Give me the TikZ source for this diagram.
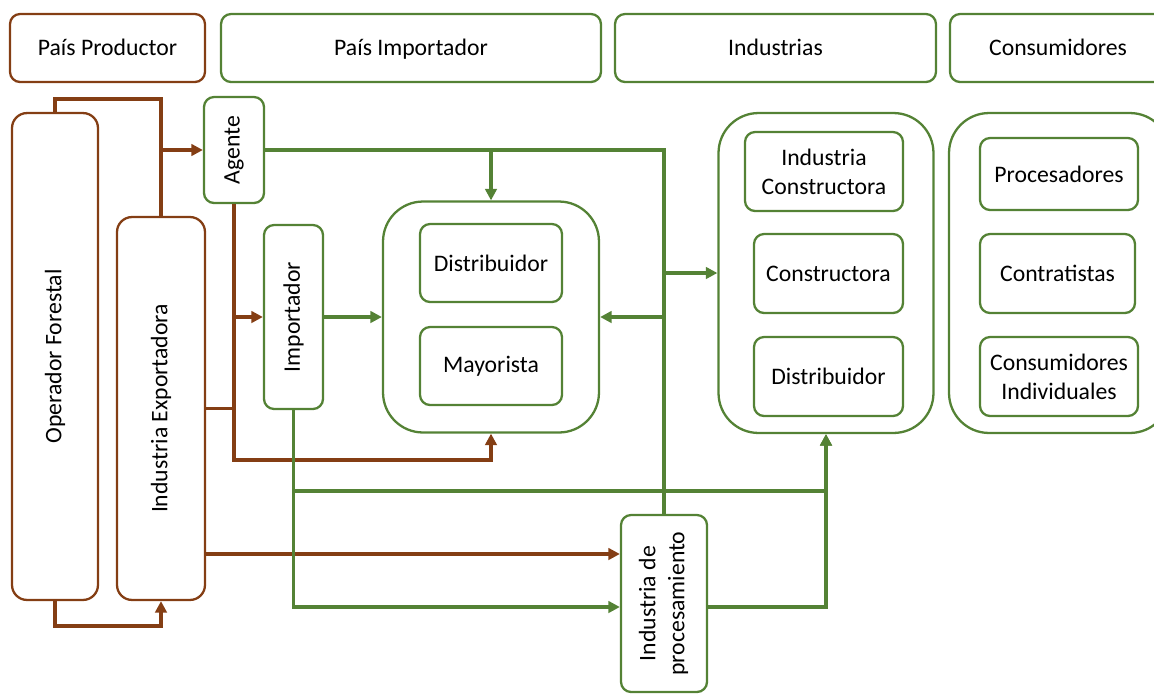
\documentclass[tikz,border=0pt]{standalone}
\usepackage{fontspec}
\setmainfont{Carlito}
\usepackage{graphicx}
\usetikzlibrary{arrows.meta}
\definecolor{prodbrown}{RGB}{132,62,20}
\definecolor{impgreen}{RGB}{84,130,53}

\begin{document}
\begin{tikzpicture}[
   x=0.02cm, y=-0.02cm,
   txt/.style={font=\fontsize{13.5}{16.5}\selectfont, align=center, inner sep=2pt},
   hdr/.style={txt, draw, rounded corners=0.2cm, line width=1.3pt, minimum height=1.36cm,
      text height=2.4ex, text depth=0.5ex},
   pbox/.style={txt, draw=prodbrown, rounded corners=0.3cm, line width=1.3pt},
   box/.style={txt, draw=impgreen, rounded corners=0.2cm, line width=1.3pt},
   grp/.style={draw=impgreen, rounded corners=0.8cm, line width=1.3pt},
   bline/.style={draw=prodbrown, line width=2.1pt},
   barrow/.style={bline, -{Triangle[length=6.5pt,width=6.5pt]}},
   gline/.style={draw=impgreen, line width=2.1pt},
   garrow/.style={gline, -{Triangle[length=6.5pt,width=6.5pt]}}
]
\useasboundingbox (0,0) rectangle (1154,694);
\clip (0,0) rectangle (1154,694);

% Cabeceras
\node[hdr, draw=prodbrown, minimum width=3.9cm] (hProd) at (107.5,48) {País Productor};
\node[hdr, draw=impgreen, minimum width=7.6cm] (hImp) at (411,48) {País Importador};
\node[hdr, draw=impgreen, minimum width=6.42cm] (hInd) at (775.5,48) {Industrias};
\node[hdr, draw=impgreen, minimum width=4.32cm] (hCons) at (1058,48) {Consumidores};

% Pais productor
\node[pbox, minimum width=1.72cm, minimum height=9.74cm] (opf) at (55,356.5) {\rotatebox{90}{Operador Forestal}};
\node[pbox, minimum width=1.76cm, minimum height=7.66cm] (iexp) at (161,408.5) {\rotatebox{90}{Industria Exportadora}};

% Pais importador
\node[box, minimum width=1.2cm, minimum height=2.12cm] (agente) at (234,150) {\rotatebox{90}{Agente}};
\node[box, minimum width=1.18cm, minimum height=3.68cm] (imp) at (293.5,317) {\rotatebox{90}{Importador}};
\node[grp, minimum width=4.32cm, minimum height=4.62cm] (mayor) at (491,317) {};
\node[box, minimum width=2.84cm, minimum height=1.56cm] (dist) at (491,263) {Distribuidor};
\node[box, minimum width=2.84cm, minimum height=1.56cm] (mayo) at (491,366) {Mayorista};

% Industrias
\node[grp, minimum width=4.3cm, minimum height=6.4cm] (ind) at (826,273) {};
\node[box, minimum width=3.16cm, minimum height=1.58cm] (indcon) at (824,171.5) {Industria\\Constructora};
\node[box, minimum width=2.98cm, minimum height=1.58cm] (con) at (828.5,273.5) {Constructora};
\node[box, minimum width=2.98cm, minimum height=1.58cm] (dist2) at (828.5,376.5) {Distribuidor};

% Consumidores
\node[grp, minimum width=4.42cm, minimum height=6.4cm] (cons) at (1059.5,273) {};
\node[box, minimum width=3.16cm, minimum height=1.44cm] (proc) at (1059,174) {Procesadores};
\node[box, minimum width=3.1cm, minimum height=1.58cm] (contr) at (1057.5,273.5) {Contratistas};
\node[box, minimum width=3.16cm, minimum height=1.58cm] (cind) at (1059,376.5) {Consumidores\\Individuales};

% Industria de procesamiento
\node[box, minimum width=1.72cm, minimum height=3.54cm] (iproc) at (664,603.5)
   {\rotatebox{90}{\begin{tabular}{@{}c@{}}Industria de\\procesamiento\end{tabular}}};

% puntos de quiebre
\coordinate (j1) at (161,99);
\coordinate (j2) at (161,626);
\coordinate (j3) at (491,460);
\coordinate (r1) at (0,554);
\coordinate (r2) at (0,491);
\coordinate (r3) at (0,607);

% flujos del pais productor
\draw[bline] (opf.north) |- (j1) -- (iexp.north);
\draw[barrow] (iexp.north |- agente.west) -- (agente.west);
\draw[barrow] (opf.south) |- (j2) -- (iexp.south);
\draw[barrow] (agente.south) |- (j3) -- (mayor.south);
\draw[barrow] (agente.south |- imp.west) -- (imp.west);
\draw[bline] (iexp.east) -- (iexp.east -| agente.south);
\draw[barrow] (iexp.east |- r1) -- (iproc.west |- r1);

% flujos del pais importador
\draw[gline] (agente.east) -| (iproc.north);
\draw[garrow] (mayor.north |- agente.east) -- (mayor.north);
\draw[garrow] (iproc.north |- mayor.east) -- (mayor.east);
\draw[garrow] (iproc.north |- ind.west) -- (ind.west);
\draw[garrow] (imp.east) -- (mayor.west);
\draw[garrow] (imp.south) |- (iproc.west |- r3);
\draw[garrow] (imp.south |- r2) -| (ind.south);
\draw[garrow] (iproc.east |- r3) -| (ind.south);

\end{tikzpicture}
\end{document}
